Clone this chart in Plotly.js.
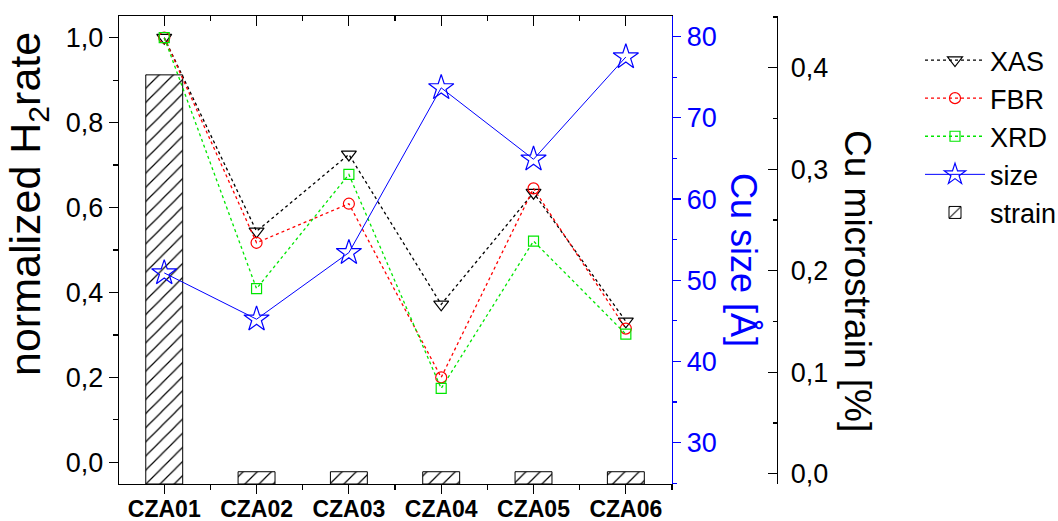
<!DOCTYPE html>
<html>
<head>
<meta charset="utf-8">
<script src="https://cdn.plot.ly/plotly-3.0.1.min.js"></script>
<style>html,body{margin:0;padding:0;background:#fff;}#chart{width:1058px;height:521px;}</style>
</head>
<body>
<div id="chart"></div>
<script>
// ---- data ----
const categories = ['CZA01', 'CZA02', 'CZA03', 'CZA04', 'CZA05', 'CZA06'];
const xas = [1.0, 0.544, 0.725, 0.372, 0.635, 0.332];
const fbr = [1.0, 0.517, 0.609, 0.200, 0.645, 0.315];
const xrd = [1.0, 0.409, 0.678, 0.174, 0.521, 0.302];
const cuSize = [50.9, 45.2, 53.4, 73.7, 64.9, 77.5];
const strain = [0.393, 0.002, 0.002, 0.002, 0.002, 0.002];

// ---- layout helpers ----
const W = 1058, H = 521;
const mL = 119, mR = 40, mT = 16, mB = 37;
const pw = W - mL - mR, ph = H - mT - mB;
const px = v => (v - mL) / pw;
const py = v => (H - mB - v) / ph;

const xIdx = categories.map((c, i) => i);
const STRAIN_MIN = -0.0101;
const FONT = 'Liberation Sans, Arial, sans-serif';
const GREEN = '#00e600';

const traces = [
  {
    type: 'bar', name: 'strain', x: xIdx, y: strain.map(v => v - STRAIN_MIN), base: STRAIN_MIN,
    xaxis: 'x', yaxis: 'y', width: 0.4, legendrank: 5,
    marker: { color: '#ffffff', line: { color: '#000', width: 1 },
      pattern: { shape: '/', size: 10, solidity: 0.12, fgcolor: '#000', bgcolor: '#fff', fillmode: 'replace' } }
  },
  {
    type: 'scatter', mode: 'lines+markers', name: 'XAS', x: xIdx, y: xas, xaxis: 'x', yaxis: 'y2', legendrank: 1,
    line: { color: '#000', width: 1.3, dash: 'dot' },
    marker: { symbol: 'triangle-down-open', size: 13, color: '#000', line: { width: 1.2 } }
  },
  {
    type: 'scatter', mode: 'lines+markers', name: 'FBR', x: xIdx, y: fbr, xaxis: 'x', yaxis: 'y2', legendrank: 2,
    line: { color: '#ff0000', width: 1.3, dash: 'dot' },
    marker: { symbol: 'circle-open', size: 11, color: '#ff0000', line: { width: 1.2 } }
  },
  {
    type: 'scatter', mode: 'lines+markers', name: 'XRD', x: xIdx, y: xrd, xaxis: 'x', yaxis: 'y2', legendrank: 3,
    line: { color: GREEN, width: 1.3, dash: 'dot' },
    marker: { symbol: 'square-open', size: 10, color: GREEN, line: { width: 1.2 } }
  },
  {
    type: 'scatter', mode: 'lines+markers', name: 'size', x: xIdx, y: cuSize, xaxis: 'x', yaxis: 'y3', legendrank: 4,
    line: { color: '#0000ff', width: 1 },
    marker: { symbol: 'star-open', size: 19, color: '#0000ff', line: { width: 1.2 } }
  },
  { type: 'scatter', mode: 'markers', x: [], y: [], xaxis: 'x2', yaxis: 'y2', showlegend: false, hoverinfo: 'skip' },
  { type: 'scatter', mode: 'markers', x: [], y: [], xaxis: 'x3', yaxis: 'y2', showlegend: false, hoverinfo: 'skip' }
];

const xDomEnd = px(672);
const xRange = [-0.49, 5.5];
const minorX = xIdx.map(i => i + 0.5);

const layout = {
  width: W, height: H,
  margin: { l: mL, r: mR, t: mT, b: mB, pad: 0, autoexpand: false },
  paper_bgcolor: '#fff', plot_bgcolor: 'rgba(0,0,0,0)',
  separators: ', ',
  font: { family: FONT, size: 27, color: '#000' },
  showlegend: true,
  bargap: 0,
  xaxis: {
    domain: [0, xDomEnd], range: xRange, tickmode: 'array', tickvals: xIdx, ticktext: categories,
    showticklabels: false, automargin: false,
    showgrid: false, zeroline: false, showline: true, linecolor: '#000', linewidth: 1.3,
    ticks: 'outside', ticklen: 9, tickwidth: 1.2, tickcolor: '#000',
    minor: { tickvals: minorX, ticks: 'outside', ticklen: 5, tickwidth: 1.2, tickcolor: '#000' }
  },
  xaxis3: {
    overlaying: 'x', side: 'bottom', anchor: 'y', range: xRange, tickmode: 'array', tickvals: xIdx, ticktext: categories,
    showgrid: false, zeroline: false, showline: false, ticks: '', ticklabelstandoff: 9, automargin: false,
    tickfont: { family: FONT, size: 23, weight: 'bold', color: '#000' }
  },
  xaxis2: {
    overlaying: 'x', side: 'top', anchor: 'y', range: xRange, tickmode: 'array', tickvals: xIdx,
    showticklabels: false, showgrid: false, zeroline: false, showline: true, linecolor: '#000', linewidth: 1.3,
    ticks: 'inside', ticklen: 10, tickwidth: 1.2, tickcolor: '#000',
    minor: { tickvals: minorX, ticks: 'inside', ticklen: 5, tickwidth: 1.2, tickcolor: '#000' }
  },
  yaxis: {
    side: 'right', anchor: 'free', position: px(777), range: [STRAIN_MIN, 0.451], automargin: false,
    tickmode: 'linear', tick0: 0, dtick: 0.1, tickformat: '.1f',
    showgrid: false, zeroline: false, showline: true, linecolor: '#000', linewidth: 1.3,
    ticks: 'inside', ticklen: 9, tickwidth: 1.2, tickcolor: '#000', ticklabelstandoff: 7,
    tickfont: { size: 27, color: '#000' },
    minor: { dtick: 0.05, ticks: 'inside', ticklen: 4, tickwidth: 1.2, tickcolor: '#000' }
  },
  yaxis2: {
    overlaying: 'y', side: 'left', anchor: 'x', range: [-0.051, 1.051], automargin: false,
    tickmode: 'linear', tick0: 0, dtick: 0.2, tickformat: '.1f',
    showgrid: false, zeroline: false, showline: true, linecolor: '#000', linewidth: 1.3,
    ticks: 'outside', ticklen: 9, tickwidth: 1.2, tickcolor: '#000',
    tickfont: { size: 27, color: '#000' },
    minor: { dtick: 0.1, ticks: 'outside', ticklen: 5, tickwidth: 1.2, tickcolor: '#000' }
  },
  yaxis3: {
    overlaying: 'y', side: 'right', anchor: 'x', range: [24.9, 82.55], automargin: false,
    tickmode: 'linear', tick0: 0, dtick: 10,
    showgrid: false, zeroline: false, showline: true, linecolor: '#0000ff', linewidth: 1.3,
    ticks: 'outside', ticklen: 8, tickwidth: 1.2, tickcolor: '#0000ff',
    tickfont: { size: 27, color: '#0000ff' },
    minor: { dtick: 5, ticks: 'outside', ticklen: 4, tickwidth: 1.2, tickcolor: '#0000ff' }
  },
  legend: {
    x: px(920), y: py(36), xanchor: 'left', yanchor: 'top',
    bgcolor: 'rgba(0,0,0,0)', borderwidth: 0, itemwidth: 60,
    font: { family: FONT, size: 27, color: '#000' }, traceorder: 'normal'
  },
  annotations: [
    { text: 'normalized H<sub>2</sub>rate', xref: 'paper', yref: 'paper', x: px(28), y: py(204), textangle: -90,
      xanchor: 'center', yanchor: 'middle', showarrow: false, font: { family: FONT, size: 43, color: '#000' } },
    { text: 'Cu size [Å]', xref: 'paper', yref: 'paper', x: px(744), y: py(260), textangle: 90,
      xanchor: 'center', yanchor: 'middle', showarrow: false, font: { family: FONT, size: 36, color: '#0000ff' } },
    { text: 'Cu microstrain [%]', xref: 'paper', yref: 'paper', x: px(858), y: py(281), textangle: 90,
      xanchor: 'center', yanchor: 'middle', showarrow: false, font: { family: FONT, size: 37, color: '#000' } }
  ]
};

Plotly.newPlot('chart', traces, layout, { displayModeBar: false, staticPlot: true });
</script>
</body>
</html>
